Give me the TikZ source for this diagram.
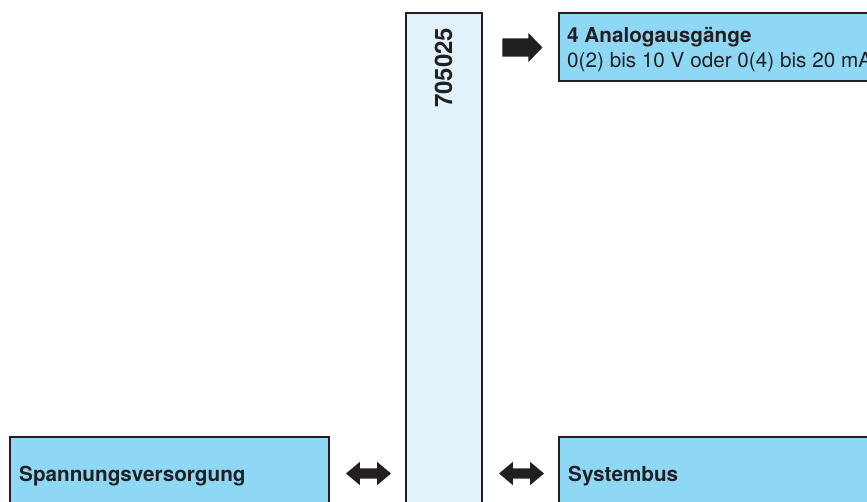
\documentclass[tikz,border=0pt]{standalone}
\usepackage{fontspec}
\setmainfont{TeX Gyre Heros}
\usetikzlibrary{shapes.arrows}

\definecolor{boxblue}{RGB}{142,216,246}
\definecolor{barblue}{RGB}{225,242,251}
\definecolor{inkblack}{RGB}{35,31,32}

\begin{document}
\begin{tikzpicture}[x=1pt,y=1pt,yscale=-1,xscale=1,
  infobox/.style={draw=inkblack,line width=1.4pt,fill=boxblue},
  modbar/.style={draw=inkblack,line width=1.4pt,fill=barblue},
  boxtext/.style={anchor=base west,inner sep=0pt,text=inkblack,font=\fontsize{20.7}{24}\selectfont},
  outarrow/.style={single arrow,fill=inkblack,inner sep=0pt,minimum height=40pt,
    single arrow head extend=5.5pt,single arrow tip angle=92},
  busarrow/.style={double arrow,fill=inkblack,inner sep=0pt,minimum height=45pt,
    double arrow head extend=6.5pt,double arrow tip angle=80}]
\clip (0,0) rectangle (867,501);

%Shape: module bar
\draw [modbar] (406,13) rectangle (482,520) ;
%Shape: output box
\draw [infobox] (559,13) rectangle (900,81) ;
%Shape: supply box
\draw [infobox] (10,437) rectangle (329,520) ;
%Shape: bus box
\draw [infobox] (559,437) rectangle (900,520) ;

% Arrows
\node [outarrow] (outarr) at (518,47.5) {\rule{0pt}{18pt}};
\node [busarrow] (supplyarr) at (368.5,473.5) {\rule{0pt}{10pt}};
\node [busarrow] (busarr) at (521.5,473.5) {\rule{0pt}{10pt}};

% Text Node
\node [boxtext,font=\fontsize{24}{28}\selectfont\bfseries,rotate=90] (modname) at (452,108) {705025};
% Text Node
\node [boxtext,font=\fontsize{20.7}{24}\selectfont\bfseries] (outtitle) at (567,42) {4 Analogausgänge};
% Text Node
\node [boxtext] (outrange) at (567,67) {0(2) bis 10 V oder 0(4) bis 20 mA};
% Text Node
\node [boxtext,font=\fontsize{20.7}{24}\selectfont\bfseries] (supplytext) at (19,481) {Spannungsversorgung};
% Text Node
\node [boxtext,font=\fontsize{20.7}{24}\selectfont\bfseries] (bustext) at (568,481) {Systembus};
\end{tikzpicture}
\end{document}
